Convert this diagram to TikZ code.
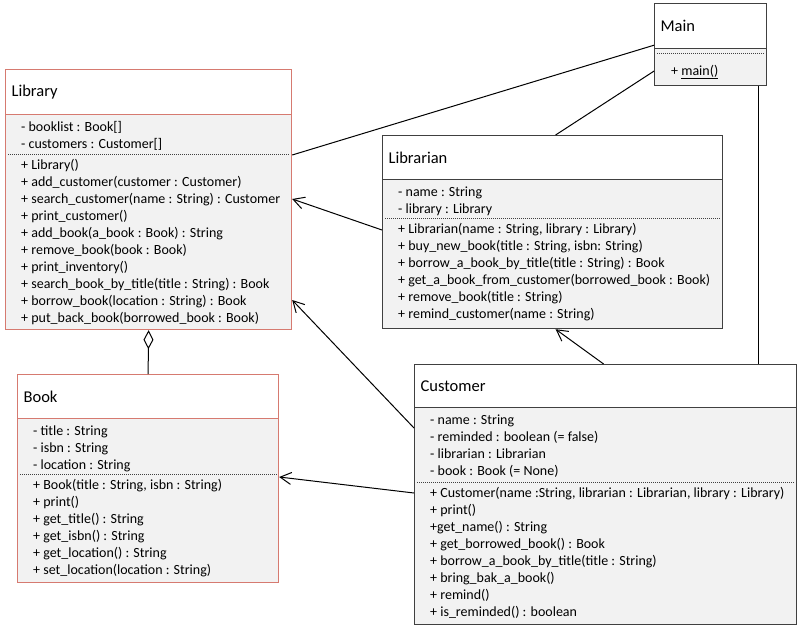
\documentclass[tikz,border=0pt]{standalone}
\usepackage{fontspec}
\setmainfont{Carlito}
\usetikzlibrary{arrows.meta}
\definecolor{redline}{RGB}{214,122,112}
\definecolor{grayline}{RGB}{64,64,64}
\definecolor{bodyfill}{RGB}{242,242,242}
\tikzstyle{head} = [rectangle, draw, fill=white, line width=1.2pt, anchor=north west, align=left, inner xsep=6pt, font=\fontsize{16.5}{20}\selectfont]
\tikzstyle{body} = [rectangle, draw, fill=bodyfill, line width=1.2pt, anchor=north west, inner sep=0pt]
\tikzstyle{members} = [anchor=north west, align=left, inner sep=0pt, font=\fontsize{14}{17}\selectfont]
\tikzstyle{sep} = [dash pattern=on 1pt off 1pt, line width=0.8pt, black!75]
\tikzstyle{link} = [line width=1pt]
\tikzstyle{navi} = [line width=1pt, -{Straight Barb[length=11pt,width=12pt]}]
\tikzstyle{aggr} = [line width=1pt, -{Diamond[open,length=19pt,width=10pt]}]

\begin{document}
\begin{tikzpicture}[x=1pt, y=-1pt]
    \useasboundingbox (0,0) rectangle (800,627);

    % Main
    \node (mainHead) [head, draw=grayline, text width=100pt, minimum height=45pt] at (654,3) {Main};
    \node (mainBody) [body, draw=grayline, minimum width=112pt, minimum height=37pt] at (654,48) {};
    \draw [sep] ([xshift=3pt,yshift=-5pt]mainBody.north west) -- ([xshift=-3pt,yshift=-5pt]mainBody.north east);
    \node (mainOps) [members] at ([xshift=17pt,yshift=-15pt]mainBody.north west) {\strut+ \underline{main()}};

    % Library
    \node (libHead) [head, draw=redline, text width=274pt, minimum height=45pt] at (5,69) {Library};
    \node (libBody) [body, draw=redline, minimum width=286pt, minimum height=215pt] at (5,114) {};
    \draw [sep] ([xshift=3pt,yshift=-40pt]libBody.north west) -- ([xshift=-3pt,yshift=-40pt]libBody.north east);
    \node (libAttr) [members] at ([xshift=16pt,yshift=-5pt]libBody.north west)
        {\strut- booklist : Book[]\\- customers : Customer[]};
    \node (libOps) [members] at ([xshift=16pt,yshift=-43pt]libBody.north west)
        {\strut+ Library()\\+ add\_customer(customer : Customer)\\+ search\_customer(name : String) : Customer\\+ print\_customer()\\+ add\_book(a\_book : Book) : String\\+ remove\_book(book : Book)\\+ print\_inventory()\\+ search\_book\_by\_title(title : String) : Book\\+ borrow\_book(location : String) : Book\\+ put\_back\_book(borrowed\_book : Book)};

    % Librarian
    \node (lbrHead) [head, draw=grayline, text width=328pt, minimum height=44pt] at (382,135) {Librarian};
    \node (lbrBody) [body, draw=grayline, minimum width=340pt, minimum height=149pt] at (382,179) {};
    \draw [sep] ([xshift=3pt,yshift=-39pt]lbrBody.north west) -- ([xshift=-3pt,yshift=-39pt]lbrBody.north east);
    \node (lbrAttr) [members] at ([xshift=16pt,yshift=-5pt]lbrBody.north west)
        {\strut- name : String\\- library : Library};
    \node (lbrOps) [members] at ([xshift=16pt,yshift=-42pt]lbrBody.north west)
        {\strut+ Librarian(name : String, library : Library)\\+ buy\_new\_book(title : String, isbn: String)\\+ borrow\_a\_book\_by\_title(title : String) : Book\\+ get\_a\_book\_from\_customer(borrowed\_book : Book)\\+ remove\_book(title : String)\\+ remind\_customer(name : String)};

    % Book
    \node (bookHead) [head, draw=redline, text width=249pt, minimum height=44pt] at (17,374) {Book};
    \node (bookBody) [body, draw=redline, minimum width=261pt, minimum height=164pt] at (17,418) {};
    \draw [sep] ([xshift=3pt,yshift=-56pt]bookBody.north west) -- ([xshift=-3pt,yshift=-56pt]bookBody.north east);
    \node (bookAttr) [members] at ([xshift=16pt,yshift=-5pt]bookBody.north west)
        {\strut- title : String\\- isbn : String\\- location : String};
    \node (bookOps) [members] at ([xshift=16pt,yshift=-59pt]bookBody.north west)
        {\strut+ Book(title : String, isbn : String)\\+ print()\\+ get\_title() : String\\+ get\_isbn() : String\\+ get\_location() : String\\+ set\_location(location : String)};

    % Customer
    \node (custHead) [head, draw=grayline, text width=370pt, minimum height=43pt] at (414,364) {Customer};
    \node (custBody) [body, draw=grayline, minimum width=382pt, minimum height=217pt] at (414,407) {};
    \draw [sep] ([xshift=3pt,yshift=-75pt]custBody.north west) -- ([xshift=-3pt,yshift=-75pt]custBody.north east);
    \node (custAttr) [members] at ([xshift=16pt,yshift=-5pt]custBody.north west)
        {\strut- name : String\\- reminded : boolean (= false)\\- librarian : Librarian\\- book : Book (= None)};
    \node (custOps) [members] at ([xshift=16pt,yshift=-78pt]custBody.north west)
        {\strut+ Customer(name :String, librarian : Librarian, library : Library)\\+ print()\\+get\_name() : String\\+ get\_borrowed\_book() : Book\\+ borrow\_a\_book\_by\_title(title : String)\\+ bring\_bak\_a\_book()\\+ remind()\\+ is\_reminded() : boolean};

    % connectors
    \draw [link] ([yshift=4pt]mainHead.south west) -- ([yshift=-41pt]libBody.north east);
    \draw [link] ([yshift=-4pt]mainBody.west) -- ([xshift=3pt]lbrHead.north);
    \draw [link] ([xshift=-9pt]mainBody.south east) -- ([xshift=-9pt]mainBody.south east |- custHead.north);
    \draw [navi] ([yshift=-51pt]lbrBody.north west) -- ([yshift=-85pt]libBody.north east);
    \draw [navi] ([yshift=-21pt]custBody.north west) -- ([yshift=-186pt]libBody.north east);
    \draw [navi] ([yshift=-86pt]custBody.north west) -- ([yshift=-59pt]bookBody.north east);
    \draw [navi] ([xshift=-2pt]custHead.north) -- ([xshift=3pt]lbrBody.south);
    \draw [aggr] (bookHead.north) -- (libBody.south);
\end{tikzpicture}
\end{document}
